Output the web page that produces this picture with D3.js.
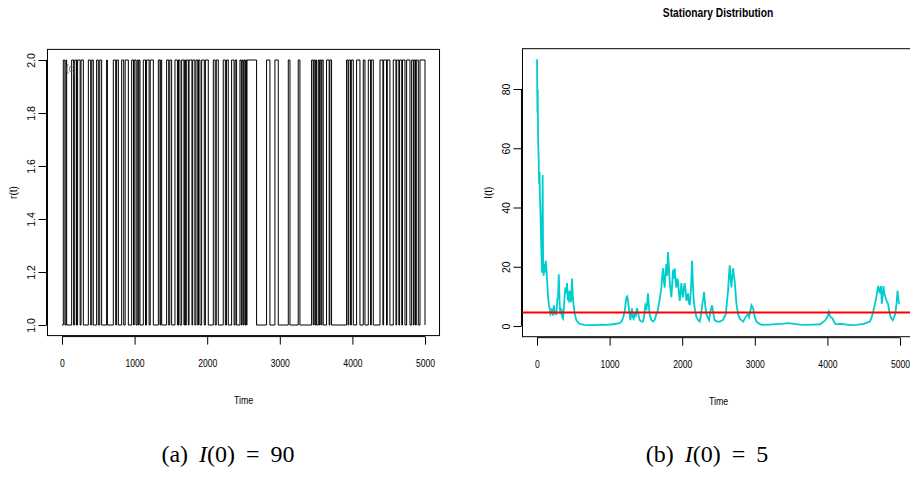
<!DOCTYPE html>
<html>
<head>
<meta charset="utf-8">
<script src="https://cdn.jsdelivr.net/npm/d3@7"></script>
<style>
  body { margin: 0; background: #fff; }
  svg text { font-family: "Liberation Sans", Arial, sans-serif; }
  .cap { font-family: "Liberation Serif", "DejaVu Serif", serif !important; }
</style>
</head>
<body>
<div id="chart"></div>
<script>
// switching process r(t): intervals where r = 2 (otherwise r = 1)
var highIntervals = [
  [18,40],[55,64],[133,160],[175,200],[215,250],[262,294],[363,395],[410,431],
  [477,500],[520,546],[615,625],[707,740],[752,776],[822,850],[870,914],[960,985],
  [995,1020],[1035,1050],[1060,1074],[1120,1150],[1165,1200],[1215,1258],[1327,1350],
  [1360,1373],[1441,1470],[1485,1510],[1556,1590],[1605,1625],[1648,1680],[1690,1700],
  [1712,1740],[1750,1790],[1800,1830],[1845,1870],[1880,1900],[1923,1960],[1975,2015],
  [2084,2110],[2125,2153],[2221,2250],[2265,2290],[2336,2370],[2385,2405],[2451,2470],
  [2480,2495],[2505,2520],[2530,2540],[2548,2680],[2818,2864],[2933,2979],[3117,3140],
  [3254,3277],[3438,3460],[3470,3485],[3495,3507],[3530,3545],[3555,3570],[3580,3598],
  [3644,3680],[3690,3713],[3920,3940],[3950,3975],[3985,4012],[4058,4104],[4150,4173],
  [4219,4250],[4260,4288],[4380,4420],[4430,4470],[4480,4517],[4563,4600],[4610,4640],
  [4650,4680],[4690,4724],[4747,4793],[4816,4840],[4850,4870],[4880,4908],[4931,5000]
];

// I(t) readings
var infTime = [0,6,10,14,18,23,28,35,40,48,55,62,70,78,84,92,100,110,120,130,142,152,164,175,186,198,210,222,234,244,256,267,280,290,300,311,322,336,347,359,370,380,390,402,413,425,436,448,459,470,482,494,505,520,542,565,588,650,726,800,880,955,1050,1139,1162,1185,1208,1231,1243,1254,1270,1286,1298,1309,1320,1331,1345,1360,1377,1395,1414,1440,1460,1475,1492,1510,1529,1540,1552,1575,1598,1620,1644,1662,1680,1697,1713,1725,1736,1748,1759,1770,1782,1794,1805,1817,1828,1840,1851,1862,1874,1886,1897,1909,1920,1932,1943,1955,1966,1978,1989,2000,2012,2024,2035,2046,2058,2070,2081,2092,2104,2120,2136,2148,2159,2178,2196,2220,2242,2260,2278,2290,2301,2317,2333,2350,2370,2390,2411,2430,2448,2480,2517,2560,2600,2616,2632,2644,2655,2666,2678,2690,2701,2712,2724,2736,2747,2770,2793,2816,2839,2862,2885,2904,2922,2938,2954,2966,2977,3000,3023,3060,3092,3200,3345,3400,3460,3540,3620,3700,3804,3900,3965,4000,4020,4034,4046,4057,4073,4089,4110,4126,4200,4264,4330,4402,4500,4586,4610,4632,4650,4669,4685,4701,4720,4738,4750,4761,4772,4784,4800,4816,4835,4853,4870,4885,4900,4917,4935,4954,4966,4977,4988,5000];
var infValue = [90,72,80,66,60,57,48,52,44,38,30,24,18,51,22,17,21,18,22,19.5,14,10,7,6,4,4.5,6,3.5,7,5,4,4,9,10,17.5,8,4,6,3,2.5,6,10,13,11,14.5,9,8.5,12,9.5,8,16,10,7,4,2,1.2,0.7,0.4,0.3,0.3,0.5,0.4,0.6,1,1.5,2.7,5,9.7,10,8.5,5,2,4,6,3,2.5,4,3.5,6,4,2,1.5,1.5,3,7,6,11,7,4,2,1.5,2,4,5,7.5,10,13,17,19.5,15,13,18,21,17,25,20,15,12,9.7,14,19,16,19.5,15,13,16,15,11,8.5,12,14.5,11,9.7,13,14.5,12,8.5,10,11,8,7,12,22,14,8.5,5,3,2,1.5,4,7.5,9,11.5,7,4,3,2,5,7,4,2,1.5,1.5,2,4,8,12,17,20.5,16,13,17,19.5,17,15,11,7.5,4,2.5,2,1.5,2.5,3.5,4,3,5,7,6.5,6,3,1.5,0.8,0.4,0.5,0.7,0.8,1,0.7,0.5,0.4,0.5,0.6,1.8,3,4.8,3.5,3,2.8,2.5,1.5,0.7,0.6,0.7,0.5,0.3,0.4,0.7,1.5,3,5,7,9,11.5,13.5,11,13.5,7.5,10,13.5,11,9.7,8.5,7.5,5,3,2.5,2,3,4,8,12,9,7.5];
var equilibrium = 4.6;

var timeTicks = [0,1000,2000,3000,4000,5000];
var rTicks = [1.0,1.2,1.4,1.6,1.8,2.0];
var iTicks = [0,20,40,60,80];
var captions = ["(a) ", "(b) "];
var captionValues = ["90", "5"];

var W = 910, H = 477;
var svg = d3.select("#chart").append("svg")
    .attr("width", W).attr("height", H);

// helper to draw an R-style axis frame
function drawPanel(g, x, y, xTicks, yTicks, yFmt, ylab) {
  var x0 = x(-200), x1 = x(5200);
  var yb = y(y.domain()[0]), yt = y(y.domain()[1]);

  g.append("rect")
      .attr("x", x0).attr("y", yt)
      .attr("width", x1 - x0).attr("height", yb - yt)
      .attr("fill", "none").attr("stroke", "#000").attr("stroke-width", 1);

  // x axis
  var xa = g.append("g").attr("transform", "translate(0," + (yb + 1) + ")")
      .call(d3.axisBottom(x).tickValues(xTicks).tickSize(8).tickSizeOuter(0).tickFormat(d3.format("d")));
  xa.select(".domain").attr("d", "M" + x(xTicks[0]) + ",0H" + x(xTicks[xTicks.length - 1]));
  xa.selectAll(".tick text")
      .attr("y", 0).attr("dy", 0)
      .attr("transform", "translate(0,30) scale(0.78,1)")
      .attr("font-size", 11)
      .style("font-family", "'Liberation Sans', sans-serif");

  // y axis
  var ya = g.append("g").attr("transform", "translate(" + (x0 - 1) + ",0)")
      .call(d3.axisLeft(y).tickValues(yTicks).tickSize(8).tickSizeOuter(0).tickFormat(yFmt));
  ya.select(".domain").attr("d", "M0," + y(yTicks[0]) + "V" + y(yTicks[yTicks.length - 1]));
  ya.selectAll(".tick text")
      .attr("x", 0).attr("dy", 0)
      .attr("transform", "translate(-11,0) rotate(-90)")
      .attr("text-anchor", "middle")
      .attr("font-size", 10.5)
      .style("font-family", "'Liberation Sans', sans-serif");

  g.append("text")
      .attr("transform", "translate(" + ((x(0) + x(5000)) / 2) + "," + (yb + 68) + ") scale(0.8,1)")
      .attr("text-anchor", "middle").attr("font-size", 11)
      .text("Time");

  g.append("text")
      .attr("transform", "translate(" + (x0 - 30) + "," + ((yb + yt) / 2) + ") rotate(-90)")
      .attr("text-anchor", "middle").attr("font-size", 10)
      .text(ylab);
}

// ---- panel (a): r(t) ----
var xa = d3.scaleLinear().domain([0, 5000]).range([62, 425]);
var ya = d3.scaleLinear().domain([0.96, 2.04]).range([335.6, 49.4]);
var ga = svg.append("g");
drawPanel(ga, xa, ya, timeTicks, rTicks, d3.format(".1f"), "r(t)");

// build step path from intervals
var steps = [];
var prev = 0;
highIntervals.forEach(function(iv) {
  steps.push({t: prev, r: 1});
  steps.push({t: iv[0], r: 1});
  steps.push({t: iv[0], r: 2});
  steps.push({t: iv[1], r: 2});
  steps.push({t: iv[1], r: 1});
  prev = iv[1];
});

ga.append("path")
    .datum(steps)
    .attr("fill", "none")
    .attr("stroke", "#000")
    .attr("stroke-width", 1)
    .attr("d", d3.line().x(function(d) { return xa(d.t); }).y(function(d) { return ya(d.r); }));

ga.append("text")
    .attr("transform", "translate(66,72) scale(0.8,1)")
    .attr("font-size", 10).attr("fill", "#555")
    .text("(c)");

// ---- panel (b): I(t) ----
var xb = d3.scaleLinear().domain([0, 5000]).range([537, 900]);
var yb = d3.scaleLinear().domain([-3.6, 93.6]).range([336.7, 48.7]);
var gb = svg.append("g");
drawPanel(gb, xb, yb, timeTicks, iTicks, d3.format("d"), "I(t)");

var series = infTime.map(function(t, i) { return {t: t, v: infValue[i]}; });
gb.append("path")
    .datum(series)
    .attr("fill", "none")
    .attr("stroke", "#00CDCD")
    .attr("stroke-width", 1.8)
    .attr("d", d3.line().x(function(d) { return xb(d.t); }).y(function(d) { return yb(d.v); }));

gb.append("line")
    .attr("x1", xb(-200)).attr("x2", xb(5200))
    .attr("y1", yb(equilibrium)).attr("y2", yb(equilibrium))
    .attr("stroke", "#FF0000").attr("stroke-width", 2);

gb.append("text")
    .attr("transform", "translate(718,17) scale(0.82,1)")
    .attr("text-anchor", "middle")
    .attr("font-size", 12.5).attr("font-weight", "bold")
    .text("Stationary Distribution");

// ---- captions ----
var capX = [228, 707];
capX.forEach(function(cx, i) {
  var t = svg.append("text").attr("class", "cap")
      .attr("x", cx).attr("y", 462)
      .attr("text-anchor", "middle")
      .attr("font-size", 24)
      .style("word-spacing", "5px");
  t.append("tspan").text(captions[i]);
  t.append("tspan").attr("font-style", "italic").text("I");
  t.append("tspan").text("(0) = " + captionValues[i]);
});
</script>
</body>
</html>
